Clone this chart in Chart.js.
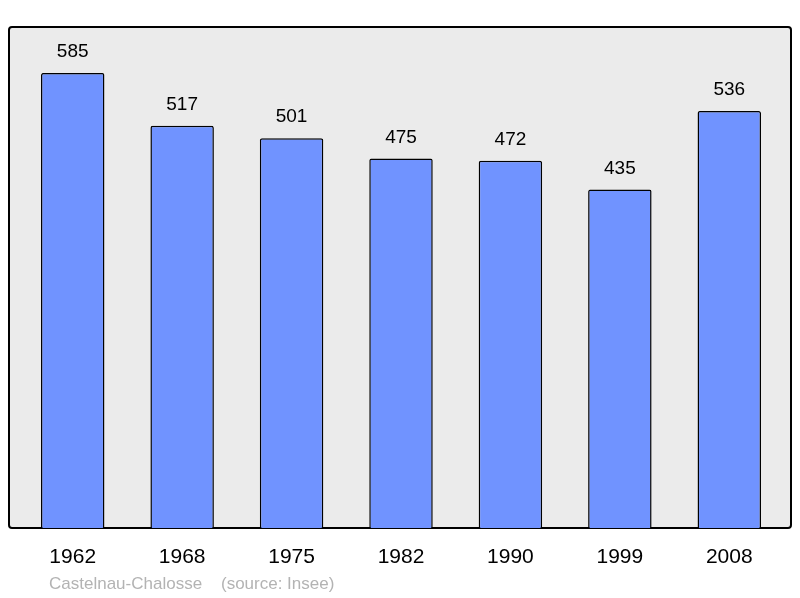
<!DOCTYPE html>
<html>
<head>
<meta charset="utf-8">
<script src="https://cdn.jsdelivr.net/npm/chart.js@4/dist/chart.umd.min.js"></script>
<style>
  html, body { margin: 0; padding: 0; background: #fff; }
  #wrap { width: 800px; height: 598px; }
</style>
</head>
<body>
<div id="wrap"><canvas id="c" width="800" height="598"></canvas></div>
<script>
// data
const years = ['1962', '1968', '1975', '1982', '1990', '1999', '2008'];
const population = [585, 517, 501, 475, 472, 435, 536];
const footer = 'Castelnau-Chalosse    (source: Insee)';

// grey panel with black frame behind the bars
const panelPlugin = {
  id: 'panel',
  beforeDatasetsDraw(chart) {
    const { ctx, chartArea: a } = chart;
    ctx.save();
    ctx.fillStyle = '#ebebeb';
    ctx.strokeStyle = '#000';
    ctx.lineWidth = 2;
    ctx.beginPath();
    ctx.roundRect(9, a.top, 782, a.bottom - a.top, 3);
    ctx.fill();
    ctx.stroke();
    ctx.restore();
  },
  afterDatasetsDraw(chart) {
    const { ctx } = chart;
    const meta = chart.getDatasetMeta(0);
    ctx.save();
    ctx.fillStyle = '#000';
    ctx.font = '19px "Liberation Sans", Arial, sans-serif';
    ctx.textAlign = 'center';
    ctx.textBaseline = 'middle';
    meta.data.forEach((bar, i) => {
      ctx.fillText(population[i], bar.x, bar.y - 21);
    });
    ctx.fillStyle = '#b3b3b3';
    ctx.font = '17px "Liberation Sans", Arial, sans-serif';
    ctx.textAlign = 'left';
    ctx.fillText(footer, 49, 584);
    ctx.restore();
  }
};

new Chart(document.getElementById('c'), {
  type: 'bar',
  data: {
    labels: years,
    datasets: [{
      data: population,
      backgroundColor: '#7093ff',
      borderColor: '#000',
      borderWidth: 1.5,
      borderRadius: 2,
      borderSkipped: 'bottom',
      categoryPercentage: 1,
      barPercentage: 0.58
    }]
  },
  options: {
    responsive: false,
    animation: false,
    layout: { padding: { left: 18, right: 16, top: 27, bottom: 0 } },
    plugins: { legend: { display: false }, tooltip: { enabled: false } },
    scales: {
      x: {
        grid: { display: false },
        border: { display: false },
        ticks: {
          color: '#000',
          padding: 9,
          font: { size: 21, family: '"Liberation Sans", Arial, sans-serif' }
        },
        afterFit(scale) { scale.height = 70; }
      },
      y: { display: false, min: 0, max: 644 }
    }
  },
  plugins: [panelPlugin]
});
</script>
</body>
</html>
